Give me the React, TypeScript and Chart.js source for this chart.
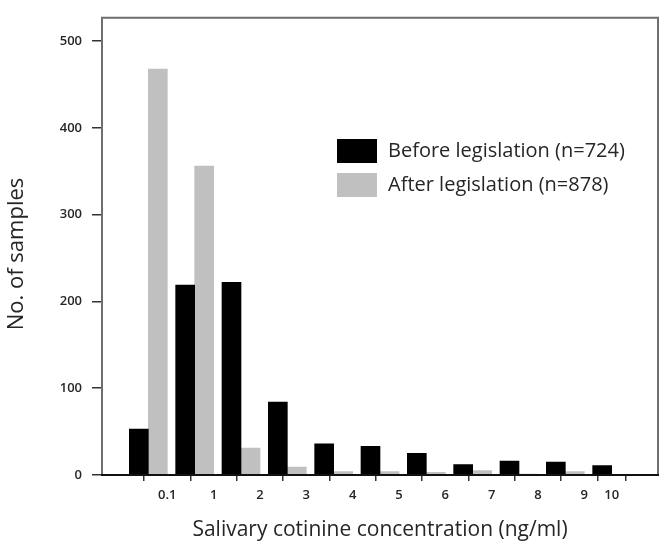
import React, { useEffect, useRef } from "react";
import { Chart, registerables } from "chart.js";

Chart.register(...registerables);

const xTickLabels = ["0.1", "1", "2", "3", "4", "5", "6", "7", "8", "9", "10"];
const xTickValues = [0.41, 1.41, 2.41, 3.41, 4.41, 5.41, 6.41, 7.41, 8.41, 9.41, 10];
const groupIndex = [0, 1, 2, 3, 4, 5, 6, 7, 8, 9, 10];
const beforeValues = [53, 219, 222, 84, 36, 33, 25, 12, 16, 15, 11];
const afterValues = [468, 356, 31, 9, 4, 4, 3, 5, 1, 4, 0];
const yTickValues = [0, 100, 200, 300, 400, 500];
const beforeLabel = "Before legislation (n=724)";
const afterLabel = "After legislation (n=878)";
const xTitle = "Salivary cotinine concentration (ng/ml)";
const yTitle = "No. of samples";

const BLACK = "#000000";
const GRAY = "#c0c0c0";
const TEXT = "#262626";
const FONT = "'Open Sans', 'DejaVu Sans', sans-serif";

const decorPlugin = {
  id: "decor",
  afterDraw(chart: any) {
    const { ctx, chartArea } = chart;
    const { left, right, top, bottom } = chartArea;
    ctx.save();
    // frame
    ctx.strokeStyle = "#6e6e6e";
    ctx.lineWidth = 2;
    ctx.beginPath();
    ctx.moveTo(left, bottom);
    ctx.lineTo(left, top);
    ctx.lineTo(right, top);
    ctx.lineTo(right, bottom);
    ctx.stroke();
    ctx.strokeStyle = "#111111";
    ctx.lineWidth = 2;
    ctx.beginPath();
    ctx.moveTo(left - 1, bottom);
    ctx.lineTo(right + 1, bottom);
    ctx.stroke();

    // legend
    const lx = 337;
    const boxW = 40;
    const boxH = 24;
    ctx.fillStyle = BLACK;
    ctx.fillRect(lx, 139, boxW, boxH);
    ctx.fillStyle = GRAY;
    ctx.fillRect(lx, 173, boxW, boxH);
    ctx.fillStyle = TEXT;
    ctx.font = `20px ${FONT}`;
    ctx.textBaseline = "middle";
    ctx.textAlign = "left";
    ctx.fillText(beforeLabel, 388, 151);
    ctx.fillText(afterLabel, 388, 185);

    // axis titles
    ctx.font = `21px ${FONT}`;
    ctx.textAlign = "center";
    ctx.fillText(xTitle, 380, 530);
    ctx.save();
    ctx.translate(17, 254);
    ctx.rotate(-Math.PI / 2);
    ctx.font = `22px ${FONT}`;
    ctx.fillText(yTitle, 0, 0);
    ctx.restore();
    ctx.restore();
  },
};

export default function App() {
  const canvasRef = useRef<HTMLCanvasElement | null>(null);

  useEffect(() => {
    document.body.style.margin = "0";
    const canvas = canvasRef.current;
    if (!canvas) return;
    const chart = new Chart(canvas, {
      type: "bar",
      data: {
        datasets: [
          {
            label: beforeLabel,
            data: groupIndex.map((g, i) => ({ x: g, y: beforeValues[i] })),
            backgroundColor: BLACK,
            borderWidth: 0,
            barThickness: 19,
          },
          {
            label: afterLabel,
            data: groupIndex.map((g, i) => ({ x: g, y: afterValues[i] })),
            backgroundColor: GRAY,
            borderWidth: 0,
            barThickness: 19,
          },
        ],
      },
      options: {
        animation: false,
        responsive: false,
        maintainAspectRatio: false,
        layout: { padding: { top: 5, right: 6, left: 0, bottom: 0 } },
        plugins: {
          legend: { display: false },
          tooltip: { enabled: false },
        },
        scales: {
          x: {
            type: "linear",
            min: -1,
            max: 11,
            offset: false,
            afterBuildTicks(scale: any) {
              scale.ticks = xTickValues.map((v) => ({ value: v }));
            },
            afterFit(scale: any) {
              scale.height = 73;
            },
            grid: {
              display: true,
              drawOnChartArea: false,
              drawTicks: true,
              tickLength: 6,
              color: "#333333",
              lineWidth: 1.5,
            },
            border: { display: false },
            ticks: {
              autoSkip: false,
              maxRotation: 0,
              padding: 6,
              color: TEXT,
              font: { family: FONT, size: 13, weight: "600" },
              callback: (_v: any, i: number) => xTickLabels[i],
            },
          },
          y: {
            min: 0,
            max: 527,
            afterBuildTicks(scale: any) {
              scale.ticks = yTickValues.map((v) => ({ value: v }));
            },
            afterFit(scale: any) {
              scale.width = 102;
            },
            grid: {
              display: true,
              drawOnChartArea: false,
              drawTicks: true,
              tickLength: 10,
              color: "#333333",
              lineWidth: 1.5,
            },
            border: { display: false },
            ticks: {
              padding: 10,
              color: TEXT,
              font: { family: FONT, size: 13, weight: "600" },
              callback: (v: any) => String(v),
            },
          },
        },
      },
      plugins: [decorPlugin],
    });
    return () => chart.destroy();
  }, []);

  return (
    <div style={{ position: "relative", width: 664, height: 548 }}>
      <canvas ref={canvasRef} width={664} height={548} style={{ display: "block" }} />
    </div>
  );
}
